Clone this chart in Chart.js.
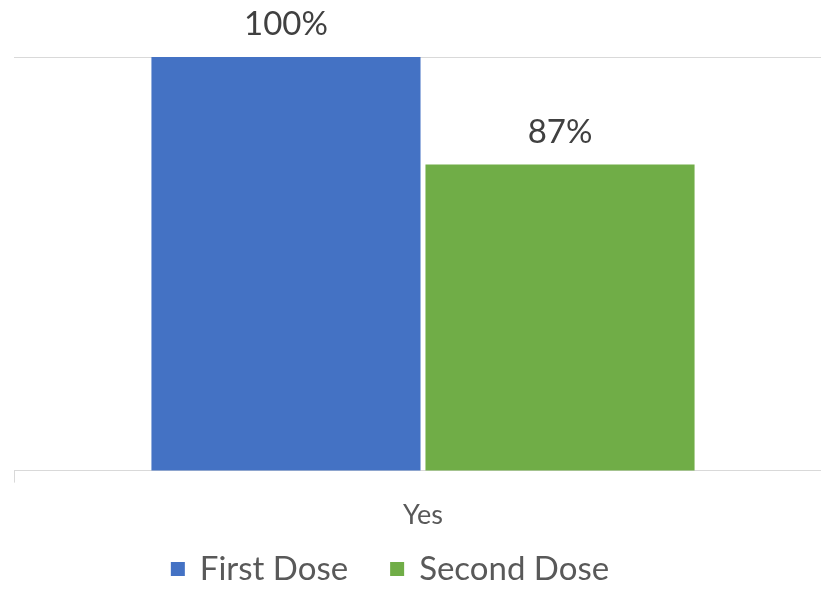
<!DOCTYPE html>
<html>
<head>
<meta charset="utf-8">
<script src="https://cdn.jsdelivr.net/npm/chart.js@4"></script>
<style>
  html, body { margin: 0; padding: 0; background: #fff; overflow: hidden; }
  #wrap { width: 832px; height: 589px; }
</style>
</head>
<body>
<div id="wrap"><canvas id="doseChart"></canvas></div>
<script>
const categories = ['Yes'];
const seriesNames = ['First Dose', 'Second Dose'];
const seriesColors = ['#4472C4', '#70AD47'];
const firstDose = [100];
const secondDose = [87];
const axisMin = 50;
const axisMax = 100;

// labels above each bar
const valueLabels = {
    id: 'valueLabels',
    afterDatasetsDraw(chart) {
        const ctx = chart.ctx;
        ctx.save();
        ctx.font = '33px Lato';
        ctx.fillStyle = '#404040';
        ctx.textAlign = 'center';
        ctx.textBaseline = 'alphabetic';
        chart.data.datasets.forEach((ds, i) => {
            chart.getDatasetMeta(i).data.forEach((bar, j) => {
                ctx.fillText(ds.data[j] + '%', bar.x, bar.y - 22);
            });
        });
        ctx.restore();
    }
};

// legend drawn in the space reserved at the bottom
const bottomLegend = {
    id: 'bottomLegend',
    afterDraw(chart) {
        const ctx = chart.ctx;
        const box = 14, gapText = 15, gapItem = 42;
        ctx.save();
        ctx.font = '33px Lato';
        const items = chart.data.datasets.map(ds => ({
            text: ds.label,
            color: ds.backgroundColor,
            w: ctx.measureText(ds.label).width
        }));
        let total = 0;
        items.forEach((it, i) => {
            total += box + gapText + it.w + (i < items.length - 1 ? gapItem : 0);
        });
        let x = 390 - total / 2;
        const y = 569;
        ctx.textBaseline = 'middle';
        ctx.textAlign = 'left';
        items.forEach(it => {
            ctx.fillStyle = it.color;
            ctx.fillRect(x, y - box / 2, box, box);
            x += box + gapText;
            ctx.fillStyle = '#595959';
            ctx.fillText(it.text, x, y);
            x += it.w + gapItem;
        });
        ctx.restore();
    }
};

const doseChartCtx = document.getElementById('doseChart').getContext('2d');
const doseChart = new Chart(doseChartCtx, {
    type: 'bar',
    data: {
        labels: categories,
        datasets: [{
            label: seriesNames[0],
            data: firstDose,
            backgroundColor: seriesColors[0]
        }, {
            label: seriesNames[1],
            data: secondDose,
            backgroundColor: seriesColors[1]
        }]
    },
    options: {
        responsive: true,
        maintainAspectRatio: false,
        animation: false,
        layout: {
            padding: { top: 57, left: 14, right: 0, bottom: 42 }
        },
        datasets: {
            bar: {
                categoryPercentage: 0.67,
                barPercentage: 0.982
            }
        },
        scales: {
            x: {
                grid: {
                    drawOnChartArea: false,
                    tickLength: 12,
                    color: '#d9d9d9',
                    offset: true
                },
                border: { color: '#d9d9d9' },
                ticks: {
                    font: { family: 'Lato', size: 27 },
                    color: '#595959',
                    padding: 16
                }
            },
            y: {
                min: axisMin,
                max: axisMax,
                ticks: { display: false, stepSize: 50 },
                grid: { color: '#d9d9d9', drawTicks: false },
                border: { display: false }
            }
        },
        plugins: {
            legend: { display: false },
            tooltip: { enabled: false }
        }
    },
    plugins: [valueLabels, bottomLegend]
});
</script>
</body>
</html>
